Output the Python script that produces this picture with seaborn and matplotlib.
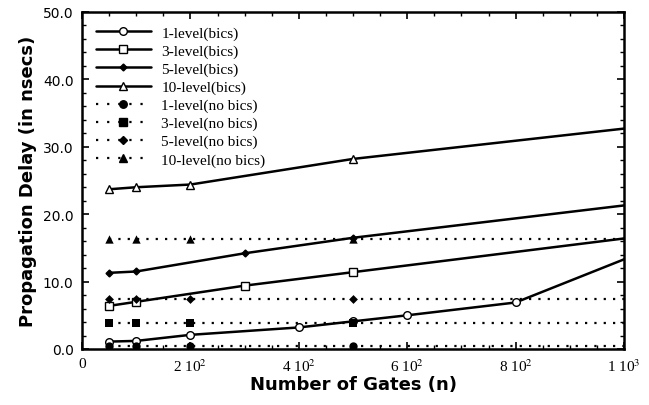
import matplotlib
matplotlib.use("Agg")
import matplotlib.pyplot as plt
from matplotlib.lines import Line2D
from matplotlib.ticker import MultipleLocator
import seaborn as sns
import pandas as pd

# ---- data ----
x_1bics = [50, 100, 200, 400, 500, 600, 800, 1000]
y_1bics = [1.1, 1.2, 2.1, 3.2, 4.1, 5.0, 6.9, 13.3]
x_3bics = [50, 100, 300, 500, 1000]
y_3bics = [6.4, 7.0, 9.4, 11.4, 16.4]
x_5bics = [50, 100, 300, 500, 1000]
y_5bics = [11.3, 11.5, 14.2, 16.5, 21.3]
x_10bics = [50, 100, 200, 500, 1000]
y_10bics = [23.7, 24.0, 24.4, 28.2, 32.7]

x_nobics = [50, 100, 200, 500, 1000]
y_1nobics = [0.5, 0.5, 0.5, 0.5, 0.5]
y_3nobics = [3.9, 3.9, 3.9, 3.9, 3.9]
y_5nobics = [7.4, 7.4, 7.4, 7.4, 7.4]
y_10nobics = [16.3, 16.3, 16.3, 16.3, 16.3]

x_ticks = [0, 200, 400, 600, 800, 1000]
x_ticklabels = ["0", r"2 10$^{2}$", r"4 10$^{2}$", r"6 10$^{2}$", r"8 10$^{2}$", r"1 10$^{3}$"]
y_ticks = [0, 10, 20, 30, 40, 50]
y_ticklabels = ["0.0", "10.0", "20.0", "30.0", "40.0", "50.0"]

labels_bics = ["1-level(bics)", "3-level(bics)", "5-level(bics)", "10-level(bics)"]
labels_nobics = ["1-level(no bics)", "3-level(no bics)", "5-level(no bics)", "10-level(no bics)"]

sns.set_theme(style="ticks")
plt.rcParams["font.family"] = ["DejaVu Sans"]
plt.rcParams["mathtext.fontset"] = "stix"
plt.rcParams["text.color"] = "black"
plt.rcParams["axes.labelcolor"] = "black"
plt.rcParams["xtick.labelcolor"] = "black"
plt.rcParams["ytick.labelcolor"] = "black"

fig = plt.figure(figsize=(6.49, 4.06), dpi=100)
ax = fig.add_axes([82 / 649, 1 - 350 / 406, (624 - 82) / 649, (350 - 13) / 406])

bics = [
    (x_1bics, y_1bics, "o", "white", 5.5),
    (x_3bics, y_3bics, "s", "white", 5.5),
    (x_5bics, y_5bics, "D", "black", 3.5),
    (x_10bics, y_10bics, "^", "white", 5.5),
]
for xs, ys, m, fc, ms in bics:
    sns.lineplot(x=xs, y=ys, ax=ax, color="black", linewidth=1.8,
                 marker=m, markerfacecolor=fc, markeredgecolor="black",
                 markersize=ms, markeredgewidth=1.0, legend=False,
                 markevery=list(range(len(xs) - 1)))

nobics = [
    (y_1nobics, "o", 6),
    (y_3nobics, "s", 6),
    (y_5nobics, "D", 4.5),
    (y_10nobics, "^", 6),
]
for ys, m, ms in nobics:
    sns.lineplot(x=x_nobics, y=ys, ax=ax, color="black", linewidth=1.6,
                 linestyle=(0, (1, 3.2)), legend=False)
    sns.scatterplot(x=x_nobics[:4], y=ys[:4], ax=ax, color="black",
                    marker=m, s=ms ** 2, edgecolor="black", linewidth=0,
                    legend=False, zorder=3)

ax.set_xlim(0, 1000)
ax.set_ylim(0, 50)
ax.set_xticks(x_ticks)
ax.set_xticklabels(x_ticklabels, family="Liberation Serif", fontsize=11)
ax.set_yticks(y_ticks)
ax.set_yticklabels(y_ticklabels, family="DejaVu Sans", fontsize=10)
ax.xaxis.set_minor_locator(MultipleLocator(50))
ax.yaxis.set_minor_locator(MultipleLocator(2))
ax.tick_params(which="both", direction="in", top=True, right=True, color="black")
ax.tick_params(which="major", length=5, width=1.2, pad=6)
ax.tick_params(which="minor", length=3, width=1.0)
for sp in ax.spines.values():
    sp.set_linewidth(1.8)
    sp.set_color("black")

ax.set_xlabel("Number of Gates (n)", fontsize=13, fontweight="bold", labelpad=1)
ax.set_ylabel("Propagation Delay (in nsecs)", fontsize=13, fontweight="bold", labelpad=4)

handles = []
for (xs, ys, m, fc, ms) in bics:
    handles.append(Line2D([], [], color="black", linewidth=1.8, marker=m,
                          markerfacecolor=fc, markeredgecolor="black", markersize=ms))
for (ys, m, ms) in nobics:
    handles.append(Line2D([], [], color="black", linewidth=1.6, linestyle=(0, (1, 4)),
                          marker=m, markerfacecolor="black", markeredgecolor="black",
                          markersize=ms * 0.9))
leg = ax.legend(handles, labels_bics + labels_nobics, loc="upper left",
                frameon=False, handlelength=3.6, labelspacing=0.28,
                borderaxespad=0.5, handletextpad=0.7,
                prop={"family": "Liberation Serif", "size": 11})

fig.savefig("out.png", dpi=100)
